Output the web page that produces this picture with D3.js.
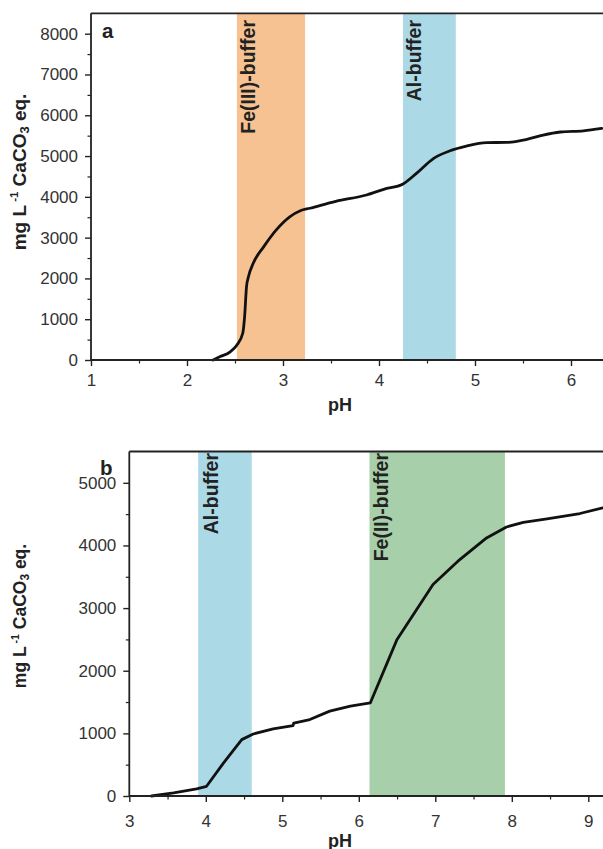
<!DOCTYPE html>
<html>
<head>
<meta charset="utf-8">
<script src="https://cdn.jsdelivr.net/npm/d3@7"></script>
<style>
  html, body { margin: 0; padding: 0; background: #fff; }
  svg { display: block; font-family: "Liberation Sans", Arial, sans-serif; }
</style>
</head>
<body>
<svg id="chart" width="603" height="849"></svg>
<script>
// Panel a: titration curve (pH vs. alkalinity added, mg/L CaCO3 eq.)
const phA   = [2.27, 2.34, 2.45, 2.52, 2.58, 2.60, 2.62, 2.64, 2.69, 2.80, 2.93, 3.07, 3.18, 3.28,
               3.55, 3.87, 4.05, 4.25, 4.39, 4.57, 4.74, 4.91, 5.12, 5.33, 5.54, 5.71, 5.89, 6.13, 6.32];
const alkA  = [0, 80, 200, 370, 650, 1060, 1800, 2040, 2370, 2780, 3190, 3510, 3660, 3720,
               3890, 4045, 4185, 4315, 4575, 4945, 5130, 5245, 5330, 5335, 5410, 5515, 5590, 5620, 5680];

// Panel b: titration curve
const phB   = [3.29, 3.58, 3.88, 4.01, 4.23, 4.47, 4.62, 4.88, 5.14, 5.15, 5.36, 5.62, 5.89, 6.15,
               6.50, 6.97, 7.32, 7.67, 7.93, 8.15, 8.46, 8.89, 9.19];
const alkB  = [0, 50, 115, 155, 525, 900, 990, 1070, 1125, 1165, 1220, 1355, 1435, 1485,
               2500, 3375, 3775, 4120, 4295, 4370, 4425, 4510, 4600];

// Buffer ranges (pH)
const bufferLabelsA = ["Fe(III)-buffer", "Al-buffer"];
const bufferFromA   = [2.52, 4.25];
const bufferToA     = [3.23, 4.80];
const bufferLabelsB = ["Al-buffer", "Fe(II)-buffer"];
const bufferFromB   = [3.90, 6.14];
const bufferToB     = [4.60, 7.91];

// Axis ticks
const xTicksA = [1, 2, 3, 4, 5, 6];
const yTicksA = [0, 1000, 2000, 3000, 4000, 5000, 6000, 7000, 8000];
const xTicksB = [3, 4, 5, 6, 7, 8, 9];
const yTicksB = [0, 1000, 2000, 3000, 4000, 5000];

const bufferColor = {
  "Fe(III)-buffer": "#f6c291",
  "Al-buffer": "#acd9e6",
  "Fe(II)-buffer": "#a7cfa9"
};

const svg = d3.select("#chart");

function panel(opt) {
  const { x, y, ph, alk, labels, from, to, xTicks, yTicks, letter, letterPos, curve,
          titleY, titleSize, xPad, labelTop, labelBase } = opt;
  const g = svg.append("g");
  const [x0] = x.range();
  const [yb, yt] = y.range();
  const xRight = 640;

  // buffer bands
  labels.forEach((lab, i) => {
    g.append("rect")
      .attr("x", x(from[i])).attr("width", x(to[i]) - x(from[i]))
      .attr("y", yt).attr("height", yb - yt)
      .attr("fill", bufferColor[lab]);
    g.append("text")
      .attr("transform", `translate(${x(from[i]) + labelBase[i]},${labelTop}) rotate(-90)`)
      .attr("text-anchor", "end")
      .attr("font-size", 19.5).attr("font-weight", "bold").attr("fill", "#222")
      .text(lab);
  });

  // curve
  const line = d3.line().x(d => x(d[0])).y(d => y(d[1])).curve(curve);
  g.append("path")
    .datum(ph.map((p, i) => [p, alk[i]]))
    .attr("d", line)
    .attr("fill", "none").attr("stroke", "#111").attr("stroke-width", 2.8)
    .attr("stroke-linejoin", "round").attr("stroke-linecap", "round");

  // frame (top edge + axes)
  g.append("line").attr("x1", x0).attr("x2", xRight).attr("y1", yt).attr("y2", yt)
    .attr("stroke", "#222").attr("stroke-width", 1.8);

  const xMinor = d3.range(Math.ceil(x.invert(x0) * 2) / 2, x.invert(xRight), 0.5)
    .filter(v => Math.abs(v - Math.round(v)) > 0.01);
  const yMinor = d3.range(500, y.domain()[1], 1000);

  const xAxis = d3.axisBottom(x).tickValues(xTicks).tickSize(6).tickPadding(xPad).tickFormat(d3.format("d"));
  const xa = g.append("g").attr("transform", `translate(0,${yb})`).call(xAxis);
  xa.select(".domain").attr("d", `M${x0},0H${xRight}`).attr("stroke-width", 1.8).attr("stroke", "#222");
  xa.selectAll(".tick line").attr("stroke-width", 1.4).attr("stroke", "#222");
  xa.selectAll(".tick text").attr("font-size", 17).attr("fill", "#333").attr("font-family", "Liberation Sans, Arial, sans-serif");
  const xm = g.append("g").attr("transform", `translate(0,${yb})`)
    .call(d3.axisBottom(x).tickValues(xMinor).tickSize(3.5).tickFormat(""));
  xm.select(".domain").remove();
  xm.selectAll(".tick line").attr("stroke-width", 1.2).attr("stroke", "#222");

  const yAxis = d3.axisLeft(y).tickValues(yTicks).tickSize(6).tickPadding(7).tickFormat(d3.format("d"));
  const ya = g.append("g").attr("transform", `translate(${x0},0)`).call(yAxis);
  ya.select(".domain").attr("d", `M0,${yb}V${yt}`).attr("stroke-width", 1.8).attr("stroke", "#222");
  ya.selectAll(".tick line").attr("stroke-width", 1.4).attr("stroke", "#222");
  ya.selectAll(".tick text").attr("font-size", 17).attr("fill", "#333").attr("font-family", "Liberation Sans, Arial, sans-serif");
  const ym = g.append("g").attr("transform", `translate(${x0},0)`)
    .call(d3.axisLeft(y).tickValues(yMinor).tickSize(3.5).tickFormat(""));
  ym.select(".domain").remove();
  ym.selectAll(".tick line").attr("stroke-width", 1.2).attr("stroke", "#222");

  // panel letter
  g.append("text").attr("x", letterPos[0]).attr("y", letterPos[1])
    .attr("font-size", 20.5).attr("font-weight", "bold").attr("fill", "#222").text(letter);

  // axis titles
  g.append("text").attr("x", 340).attr("y", yb + 51)
    .attr("text-anchor", "middle").attr("font-size", 18).attr("font-weight", "bold").attr("fill", "#222")
    .text("pH");

  const s = titleSize;
  const yt2 = g.append("text")
    .attr("transform", `translate(26,${titleY}) rotate(-90)`)
    .attr("text-anchor", "middle").attr("font-size", s).attr("font-weight", "bold").attr("fill", "#222");
  yt2.append("tspan").text("mg L");
  yt2.append("tspan").attr("font-size", s * 0.6).attr("dy", -s * 0.4).text(" -1");
  yt2.append("tspan").attr("dy", s * 0.4).text(" CaCO");
  yt2.append("tspan").attr("font-size", s * 0.68).attr("dy", s * 0.17).text("3");
  yt2.append("tspan").attr("dy", -s * 0.17).text(" eq.");
}

// panel a
panel({
  x: d3.scaleLinear().domain([1, 6]).range([91, 571]),
  y: d3.scaleLinear().domain([0, 8500]).range([360, 13.3]),
  ph: phA, alk: alkA,
  labels: bufferLabelsA, from: bufferFromA, to: bufferToA,
  xTicks: xTicksA, yTicks: yTicksA,
  letter: "a", letterPos: [102, 38],
  curve: d3.curveMonotoneX,
  titleY: 172, titleSize: 19,
  xPad: 8,
  labelTop: 20,
  labelBase: [18, 18]
});

// panel b
panel({
  x: d3.scaleLinear().domain([3, 9]).range([129.3, 588.3]),
  y: d3.scaleLinear().domain([0, 5500]).range([796, 451.5]),
  ph: phB, alk: alkB,
  labels: bufferLabelsB, from: bufferFromB, to: bufferToB,
  xTicks: xTicksB, yTicks: yTicksB,
  letter: "b", letterPos: [100, 475],
  curve: d3.curveLinear,
  titleY: 616, titleSize: 17.5,
  xPad: 13,
  labelTop: 453,
  labelBase: [20, 18]
});
</script>
</body>
</html>
